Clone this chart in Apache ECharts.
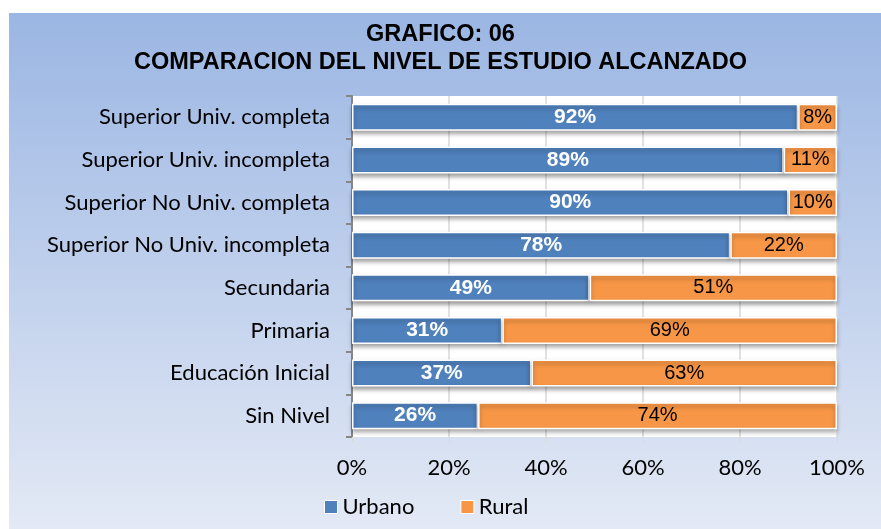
<!DOCTYPE html>
<html>
<head>
<meta charset="utf-8">
<script src="https://cdn.jsdelivr.net/npm/echarts@6/dist/echarts.min.js"></script>
<style>
  html, body { margin: 0; padding: 0; background: #fff; }
  #chart { width: 881px; height: 529px; }
</style>
</head>
<body>
<div id="chart"></div>
<script>
// categorias (de arriba hacia abajo)
var niveles = ['Superior Univ. completa', 'Superior Univ. incompleta', 'Superior No Univ. completa',
  'Superior No Univ. incompleta', 'Secundaria', 'Primaria', 'Educación Inicial', 'Sin Nivel'];
var urbano = [92, 89, 90, 78, 49, 31, 37, 26];
var rural = [8, 11, 10, 22, 51, 69, 63, 74];
var ticksX = [0, 20, 40, 60, 80, 100];

var chart = echarts.init(document.getElementById('chart'));

var catFont = 'Lato, "Noto Sans", sans-serif';
var arial = '"Liberation Sans", Arial, sans-serif';

var barStyle = function(color) {
  return {
    color: color,
    borderColor: '#fff',
    borderWidth: 1.5,
    shadowColor: 'rgba(0,0,0,0.35)',
    shadowBlur: 4,
    shadowOffsetY: 3
  };
};

var option = {
  animation: false,
  graphic: [{
    type: 'rect',
    z: -10,
    shape: { x: 9, y: 13, width: 872, height: 516 },
    style: {
      fill: new echarts.graphic.LinearGradient(0, 0, 0, 1, [
        { offset: 0, color: '#9bb6e3' },
        { offset: 1, color: '#e3e9f5' }
      ])
    }
  }],
  title: {
    text: 'GRAFICO: 06\nCOMPARACION DEL NIVEL DE ESTUDIO ALCANZADO',
    left: 'center',
    top: 16,
    textStyle: {
      fontFamily: arial,
      fontWeight: 'bold',
      fontSize: 23.5,
      lineHeight: 28,
      color: '#000'
    }
  },
  legend: {
    data: ['Urbano', 'Rural'],
    left: 319,
    top: 491,
    itemWidth: 13,
    itemHeight: 13,
    itemGap: 46,
    icon: 'rect',
    itemStyle: { borderColor: '#fff', borderWidth: 1 },
    textStyle: { fontFamily: catFont, fontSize: 22, color: '#000' }
  },
  grid: {
    left: 352,
    right: 44,
    top: 96,
    bottom: 92,
    show: true,
    backgroundColor: '#fff',
    borderWidth: 0
  },
  xAxis: {
    type: 'value',
    min: 0,
    max: 100,
    interval: 20,
    axisLine: { show: false },
    axisTick: { show: true, length: 5, lineStyle: { color: '#d9d9d9' } },
    splitLine: { show: true, lineStyle: { color: '#d9d9d9', width: 1.5 } },
    axisLabel: {
      margin: 20,
      fontFamily: catFont,
      fontSize: 22,
      color: '#000',
      formatter: function(v) { return ticksX.indexOf(v) >= 0 ? v + '%' : ''; }
    }
  },
  yAxis: {
    type: 'category',
    data: niveles,
    inverse: true,
    axisLine: { show: true, lineStyle: { color: '#868686', width: 2 } },
    axisTick: { show: true, length: 6, lineStyle: { color: '#868686', width: 2 } },
    axisLabel: {
      margin: 22,
      fontFamily: catFont,
      fontSize: 22,
      color: '#000'
    }
  },
  series: [{
    name: 'Urbano',
    type: 'bar',
    stack: 'total',
    barWidth: 27,
    data: urbano,
    itemStyle: barStyle('#4f81bd'),
    label: {
      show: true,
      position: 'inside',
      formatter: '{c}%',
      color: '#fff',
      fontWeight: 'bold',
      fontSize: 21,
      fontFamily: arial
    }
  }, {
    name: 'Rural',
    type: 'bar',
    stack: 'total',
    barWidth: 27,
    data: rural,
    itemStyle: barStyle('#f79646'),
    label: {
      show: true,
      position: 'inside',
      formatter: '{c}%',
      color: '#000',
      fontSize: 20,
      fontFamily: arial
    }
  }]
};

chart.setOption(option);
</script>
</body>
</html>
